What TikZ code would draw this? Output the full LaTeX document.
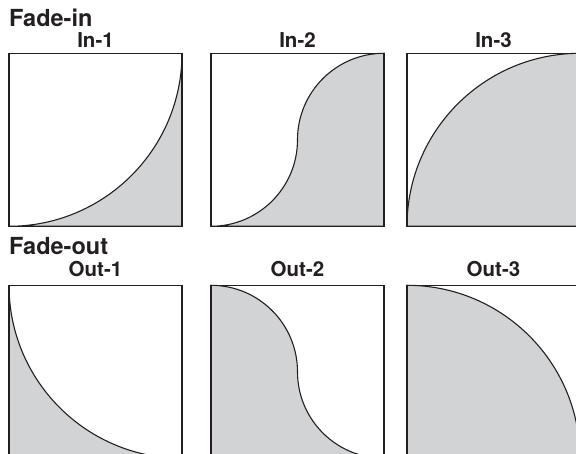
\documentclass[tikz,border=0pt]{standalone}
\usepackage{fontspec}
\setmainfont{TeX Gyre Heros}
\usetikzlibrary{positioning, backgrounds}
\definecolor{fadegray}{RGB}{209,211,212}
\definecolor{inkline}{RGB}{35,31,32}

\begin{document}
\begin{tikzpicture}[
    x=1pt, y=1pt,
    panel/.style={draw=inkline, line width=1.4pt, rectangle, minimum size=173pt, inner sep=0pt, outer sep=0pt},
    curve/.style={draw=inkline, line width=1.1pt, fill=fadegray},
    grouplabel/.style={font=\fontsize{23.5}{26}\selectfont\bfseries, text=inkline, anchor=base west, inner sep=0pt},
    curvelabel/.style={font=\fontsize{20.5}{24}\selectfont\bfseries, text=inkline, anchor=base, inner sep=0pt}
]
    \useasboundingbox (0,0) rectangle (576,454);

    % Fade-in row
    \node[panel] (in1) at (95.5,314.2) {};
    \node[panel] (in2) [right=29pt of in1] {};
    \node[panel] (in3) [right=23pt of in2] {};
    \node[grouplabel] (fadein) at ([yshift=26.6pt]in1.north west) {Fade-in};
    \node[curvelabel] (in1label) at ([yshift=5.5pt]in1.north) {In-1};
    \node[curvelabel] (in2label) at ([yshift=5.5pt]in2.north) {In-2};
    \node[curvelabel] (in3label) at ([yshift=5.5pt]in3.north) {In-3};

    % Fade-out row
    \node[panel] (out1) [below=59pt of in1] {};
    \node[panel] (out2) [right=29pt of out1] {};
    \node[panel] (out3) [right=23pt of out2] {};
    \node[grouplabel] (fadeout) at ([yshift=31pt]out1.north west) {Fade-out};
    \node[curvelabel] (out1label) at ([yshift=9pt]out1.north) {Out-1};
    \node[curvelabel] (out2label) at ([yshift=9pt]out2.north) {Out-2};
    \node[curvelabel] (out3label) at ([yshift=9pt]out3.north) {Out-3};

    % shaded areas under the curves
    \begin{scope}[on background layer]
        \filldraw[curve] (in1.south west) arc[start angle=270, end angle=360, radius=173pt] -- (in1.south east) -- cycle;
        \filldraw[curve] (in2.south west) arc[start angle=270, end angle=360, radius=86.5pt]
            arc[start angle=180, end angle=90, radius=86.5pt] -- (in2.south east) -- cycle;
        \filldraw[curve] (in3.south west) arc[start angle=180, end angle=90, radius=173pt] -- (in3.south east) -- cycle;
        \filldraw[curve] (out1.north west) arc[start angle=180, end angle=270, radius=173pt] -- (out1.south west) -- cycle;
        \filldraw[curve] (out2.north west) arc[start angle=90, end angle=0, radius=86.5pt]
            arc[start angle=180, end angle=270, radius=86.5pt] -- (out2.south west) -- cycle;
        \filldraw[curve] (out3.north west) arc[start angle=90, end angle=0, radius=173pt] -- (out3.south west) -- cycle;
    \end{scope}
\end{tikzpicture}
\end{document}
